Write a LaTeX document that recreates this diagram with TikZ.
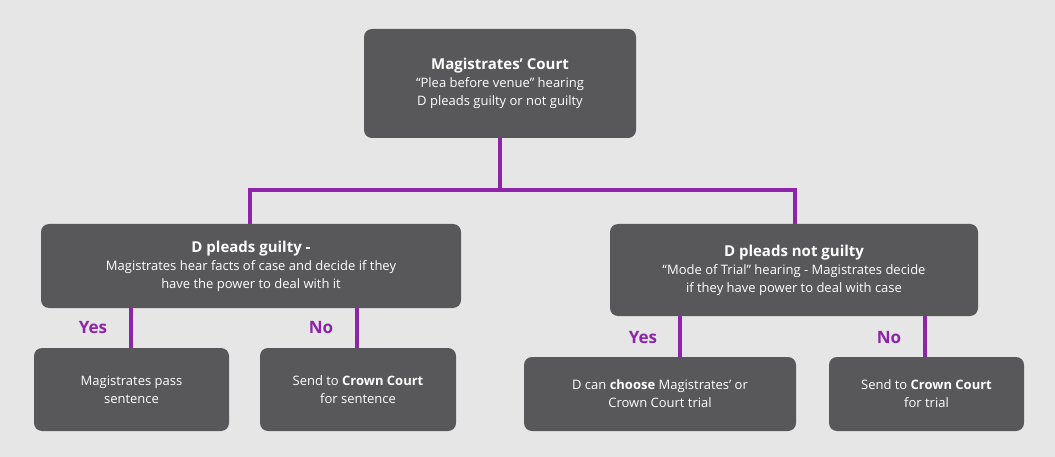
\documentclass[tikz,border=0pt]{standalone}
\usepackage{fontspec}
\setmainfont{Open Sans}
\definecolor{bg}{HTML}{E6E6E6}
\definecolor{box}{HTML}{58585A}
\definecolor{pur}{HTML}{8E24AA}
\begin{document}
\begin{tikzpicture}[x=1pt,y=-1pt,
  bx/.style={fill=box,rounded corners=8pt,text=white,align=center,font=\fontsize{13}{18}\selectfont},
  ln/.style={draw=pur,line width=4pt},
  lab/.style={text=pur,font=\fontsize{17}{20}\selectfont\bfseries}]
\fill[bg] (0,0) rectangle (1055,457);
\useasboundingbox (0,0) rectangle (1055,457);
\node[bx,minimum width=272pt,minimum height=109pt] (top) at (500,83.5) {{\fontsize{15}{20}\selectfont\bfseries Magistrates’ Court}\\“Plea before venue” hearing\\D pleads guilty or not guilty};
\node[bx,minimum width=420pt,minimum height=84pt] (L) at (251,266) {{\fontsize{15}{20}\selectfont\bfseries D pleads guilty -}\\Magistrates hear facts of case and decide if they\\have the power to deal with it};
\node[bx,minimum width=368pt,minimum height=92pt] (R) at (794,270) {{\fontsize{15}{20}\selectfont\bfseries D pleads not guilty}\\“Mode of Trial” hearing - Magistrates decide\\if they have power to deal with case};
\node[bx,minimum width=195pt,minimum height=83pt] (LY) at (131.5,389.5) {Magistrates pass\\sentence};
\node[bx,minimum width=196pt,minimum height=83pt] (LN) at (358,389.5) {Send to \textbf{Crown Court}\\for sentence};
\node[bx,minimum width=272pt,minimum height=74pt] (RY) at (660,394) {D can \textbf{choose} Magistrates’ or\\Crown Court trial};
\node[bx,minimum width=195pt,minimum height=74pt] (RN) at (926.5,394) {Send to \textbf{Crown Court}\\for trial};
\coordinate (j) at (500,190);
\draw[ln] (top.south) -- (j);
\draw[ln] (j) -- (250,190) -- (250,224);
\draw[ln] (j) -- (795,190) -- (795,224);
\draw[ln] (131,308) -- (131,348);
\draw[ln] (357,308) -- (357,348);
\draw[ln] (680,316) -- (680,357);
\draw[ln] (925,316) -- (925,357);
\node[lab] (y1) at (93,328) {Yes};
\node[lab] (n1) at (321,328) {No};
\node[lab] (y2) at (643,338) {Yes};
\node[lab] (n2) at (889,338) {No};
\end{tikzpicture}
\end{document}
